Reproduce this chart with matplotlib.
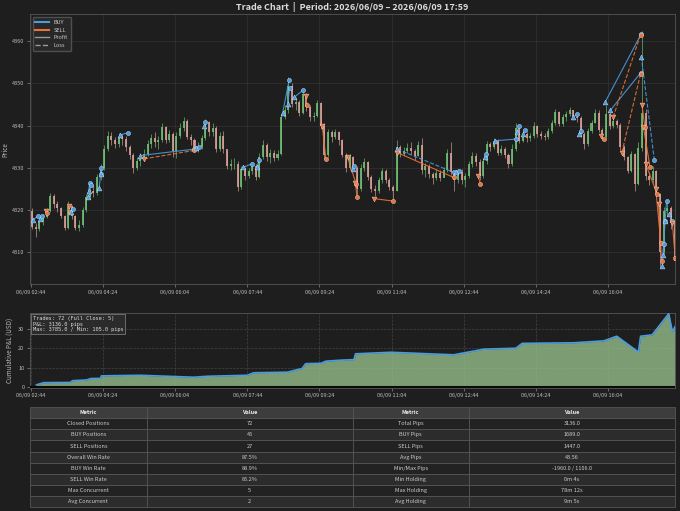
import matplotlib
matplotlib.use('Agg')
import matplotlib.pyplot as plt
from matplotlib.lines import Line2D
import numpy as np
import pandas as pd

plt.rcParams['font.family'] = ['Noto Sans CJK JP', 'DejaVu Sans']

BG = '#1e1e1e'
GRID = '#333333'
TXT = '#bbbbbb'
BLUE = '#4a9be0'
ORANGE = '#e8733a'
UP = '#72c276'
DOWN = '#dba39b'

# ---- price data (5 minute candles) ----
start = pd.Timestamp('2026-06-09 02:44')
bar_minutes = 5
first_open = 4319.8
closes = [
    4316.0, 4315.5, 4317.2, 4318.3, 4319.8, 4323.3, 4321.5, 4320.5, 4318.6, 4315.8,
    4321.0, 4318.5, 4315.8, 4316.5, 4320.0, 4323.0, 4324.5, 4324.0, 4327.7, 4330.0,
    4334.5, 4337.5, 4336.5, 4335.7, 4337.3, 4336.8, 4335.0, 4333.0, 4330.0, 4331.6,
    4332.5, 4333.3, 4335.7, 4337.0, 4336.0, 4336.5, 4339.6, 4336.5, 4338.0, 4334.0,
    4337.5, 4339.5, 4341.0, 4337.3, 4336.5, 4334.4, 4335.0, 4337.0, 4340.8, 4338.4,
    4339.5, 4334.4, 4337.5, 4334.5, 4330.5, 4330.8, 4331.0, 4325.5, 4329.7, 4328.0,
    4329.2, 4330.5, 4327.7, 4332.5, 4335.5, 4332.5, 4333.5, 4332.4, 4333.3, 4342.0,
    4343.6, 4349.5, 4345.2, 4345.5, 4343.0, 4347.5, 4344.4, 4342.0, 4342.3, 4345.3,
    4340.0, 4333.0, 4338.5, 4337.2, 4338.4, 4336.5, 4333.0, 4330.0, 4332.5, 4330.0,
    4325.0, 4330.0, 4331.3, 4327.8, 4325.0, 4324.5, 4327.0, 4329.3, 4327.0, 4325.4,
    4324.5, 4335.0, 4333.3, 4334.0, 4334.8, 4334.0, 4332.8, 4335.5, 4329.5, 4330.4,
    4328.5, 4327.5, 4328.8, 4327.5, 4329.5, 4333.5, 4329.0, 4327.0, 4329.0, 4327.0,
    4328.0, 4330.8, 4332.8, 4331.3, 4328.0, 4331.5, 4335.6, 4335.0, 4336.4, 4333.6,
    4334.5, 4333.0, 4331.0, 4334.5, 4339.5, 4336.4, 4338.0, 4337.0, 4337.5, 4340.0,
    4338.0, 4337.5, 4337.2, 4338.8, 4340.5, 4343.2, 4340.4, 4342.0, 4342.8, 4343.6,
    4342.0, 4341.8, 4338.0, 4335.6, 4338.8, 4340.5, 4343.0, 4339.0, 4337.2, 4342.8,
    4340.0, 4341.2, 4340.2, 4335.0, 4332.5, 4329.3, 4333.3, 4326.1, 4334.8, 4343.0,
    4328.0, 4327.0, 4329.3, 4323.7, 4310.0, 4319.8, 4320.5, 4317.0, 4307.9,
]
highs = [
    4320.5, 4317.0, 4318.0, 4319.0, 4320.5, 4324.0, 4323.8, 4322.0, 4320.8, 4318.8,
    4322.0, 4321.2, 4318.8, 4317.5, 4320.8, 4323.8, 4325.5, 4325.8, 4328.5, 4331.0,
    4335.5, 4338.8, 4338.5, 4337.2, 4338.2, 4338.0, 4337.5, 4335.5, 4333.5, 4332.5,
    4333.5, 4334.5, 4336.5, 4338.0, 4338.5, 4337.5, 4340.5, 4339.8, 4339.0, 4338.5,
    4338.5, 4340.5, 4342.0, 4341.5, 4338.0, 4337.0, 4336.0, 4337.8, 4341.5, 4341.0,
    4340.5, 4339.8, 4338.5, 4338.8, 4334.0, 4332.0, 4332.2, 4331.5, 4330.5, 4330.2,
    4330.0, 4331.3, 4330.8, 4333.5, 4336.6, 4335.8, 4334.5, 4334.3, 4334.2, 4343.0,
    4345.0, 4351.5, 4350.0, 4346.8, 4346.0, 4348.5, 4347.8, 4344.8, 4343.2, 4346.0,
    4345.5, 4340.5, 4339.3, 4339.0, 4339.3, 4338.8, 4336.8, 4333.5, 4333.3, 4332.8,
    4330.5, 4330.8, 4332.3, 4331.5, 4328.3, 4326.0, 4327.8, 4330.0, 4329.8, 4327.5,
    4326.0, 4336.5, 4335.5, 4335.0, 4335.8, 4336.2, 4334.5, 4336.3, 4337.0, 4331.2,
    4331.0, 4329.0, 4329.6, 4329.5, 4330.2, 4334.5, 4336.0, 4329.5, 4329.8, 4329.8,
    4328.8, 4331.5, 4333.8, 4333.5, 4332.0, 4332.3, 4336.3, 4336.2, 4337.0, 4336.8,
    4335.3, 4335.0, 4333.5, 4335.6, 4340.5, 4339.8, 4338.8, 4338.5, 4338.3, 4340.8,
    4340.2, 4338.8, 4338.2, 4339.5, 4341.3, 4344.0, 4343.5, 4342.8, 4343.5, 4344.5,
    4343.8, 4342.8, 4342.2, 4338.5, 4339.5, 4341.3, 4344.0, 4343.8, 4339.5, 4345.0,
    4343.2, 4342.0, 4341.5, 4340.5, 4335.3, 4332.8, 4334.0, 4333.5, 4336.0, 4362.5,
    4344.0, 4329.0, 4330.5, 4329.5, 4324.0, 4320.8, 4321.8, 4321.0, 4317.5,
]
lows = [
    4315.5, 4313.5, 4315.0, 4316.5, 4318.0, 4319.5, 4320.5, 4319.5, 4318.0, 4315.2,
    4315.5, 4317.8, 4315.2, 4315.0, 4316.0, 4319.5, 4322.5, 4323.0, 4323.5, 4327.0,
    4329.5, 4334.0, 4335.5, 4334.8, 4335.0, 4335.5, 4334.0, 4332.0, 4328.8, 4329.5,
    4330.5, 4331.8, 4332.8, 4334.8, 4335.0, 4334.5, 4336.0, 4335.8, 4336.0, 4332.5,
    4332.2, 4337.0, 4338.8, 4336.8, 4335.5, 4333.8, 4333.8, 4334.5, 4336.5, 4337.5,
    4337.5, 4333.8, 4334.0, 4333.5, 4329.8, 4329.5, 4329.8, 4324.5, 4325.0, 4327.2,
    4327.5, 4328.5, 4327.0, 4327.5, 4332.0, 4331.5, 4331.2, 4331.6, 4331.8, 4333.0,
    4341.5, 4343.0, 4344.5, 4343.8, 4342.2, 4342.8, 4343.5, 4341.0, 4341.0, 4342.0,
    4339.2, 4332.0, 4332.5, 4336.2, 4336.8, 4335.5, 4332.5, 4329.0, 4329.5, 4329.2,
    4323.5, 4324.5, 4329.3, 4327.0, 4324.2, 4323.2, 4324.0, 4326.5, 4326.3, 4324.8,
    4322.2, 4324.5, 4332.5, 4332.8, 4333.5, 4333.2, 4331.8, 4332.8, 4328.5, 4327.8,
    4327.5, 4326.2, 4327.0, 4326.8, 4327.8, 4329.0, 4328.2, 4324.5, 4326.5, 4326.2,
    4325.5, 4327.5, 4330.2, 4330.5, 4327.2, 4327.6, 4331.0, 4334.0, 4334.5, 4333.0,
    4333.0, 4332.2, 4330.0, 4330.5, 4334.0, 4335.8, 4336.0, 4336.2, 4336.3, 4337.0,
    4337.4, 4336.8, 4336.5, 4336.8, 4338.3, 4340.2, 4339.8, 4340.0, 4341.2, 4342.2,
    4341.3, 4340.8, 4337.2, 4334.5, 4335.2, 4338.2, 4340.5, 4338.5, 4336.5, 4337.0,
    4339.2, 4339.5, 4339.5, 4334.3, 4331.8, 4328.8, 4329.0, 4324.5, 4325.8, 4334.0,
    4327.2, 4326.0, 4326.5, 4322.8, 4306.5, 4309.5, 4318.5, 4315.5, 4305.0,
]

# ---- trades (minute index / price) ----
trade_side = ['BUY', 'BUY', 'SELL', 'SELL', 'BUY', 'BUY', 'BUY', 'BUY', 'BUY', 'BUY',
              'BUY', 'SELL', 'BUY', 'BUY', 'BUY', 'BUY', 'BUY', 'BUY', 'BUY', 'SELL',
              'SELL', 'SELL', 'BUY', 'SELL', 'SELL', 'BUY', 'SELL', 'BUY', 'SELL', 'BUY',
              'BUY', 'BUY', 'BUY', 'BUY', 'BUY', 'SELL', 'BUY', 'BUY', 'SELL', 'SELL',
              'BUY', 'SELL', 'SELL', 'SELL', 'SELL', 'SELL', 'BUY', 'BUY', 'BUY', 'BUY',
              'SELL']
entry_idx = [3, 13, 21, 53, 56, 79, 81, 95, 97, 124,
             152, 157, 229, 240, 294, 314, 349, 356, 365, 381,
             404, 439, 446, 450, 475, 508, 508, 589, 620, 629,
             643, 674, 682, 752, 759, 790, 796, 803, 807, 819,
             846, 847, 849, 852, 866, 870, 875, 876, 879, 885,
             889]
entry_px = [4317.5, 4317.8, 4319.8, 4321.0, 4319.5, 4323.1, 4324.6, 4325.3, 4328.5, 4337.8,
            4332.9, 4332.1, 4334.7, 4339.8, 4330.1, 4330.1, 4342.9, 4345.2, 4346.7, 4347.1,
            4340.0, 4332.5, 4329.8, 4326.5, 4322.7, 4334.4, 4333.6, 4328.9, 4328.1, 4332.5,
            4336.4, 4338.4, 4338.0, 4342.0, 4338.0, 4337.6, 4345.6, 4343.6, 4342.0, 4333.6,
            4356.3, 4344.8, 4339.6, 4331.0, 4325.0, 4321.5, 4306.7, 4309.4, 4317.4, 4319.0,
            4317.0]
exit_idx = [10, 16, 23, 55, 58, 82, 83, 97, 98, 135,
            226, 226, 233, 242, 306, 316, 358, 359, 378, 383,
            409, 451, 448, 452, 502, 586, 586, 593, 623, 631,
            672, 676, 685, 757, 762, 794, 846, 845, 845, 845,
            864, 851, 858, 868, 873, 874, 877, 879, 881, 888,
            893]
exit_px = [4318.6, 4318.6, 4319.3, 4319.4, 4320.3, 4326.5, 4326.0, 4328.5, 4330.0, 4338.3,
           4334.4, 4334.1, 4335.0, 4340.8, 4330.9, 4331.8, 4350.7, 4349.0, 4348.5, 4344.8,
           4332.1, 4326.1, 4330.5, 4323.1, 4322.1, 4328.9, 4327.7, 4329.3, 4326.2, 4333.3,
           4336.8, 4340.0, 4339.0, 4342.8, 4338.8, 4336.9, 4361.8, 4352.5, 4361.6, 4352.3,
           4331.9, 4339.6, 4330.2, 4323.7, 4312.2, 4308.0, 4311.8, 4317.4, 4322.1, 4317.4,
           4308.5]

# ---- cumulative P&L (USD) ----
pnl_idx = [8, 18, 55, 58, 78, 83, 97, 98, 152, 226, 245, 300, 309, 356, 365, 376, 381,
           402, 409, 429, 448, 450, 499, 586, 628, 672, 681, 752, 794, 812, 842, 845,
           861, 884, 889, 893]
pnl_usd = [1.05, 2.2, 2.3, 3.2, 3.6, 4.3, 4.4, 5.7, 6.0, 5.0, 5.5, 6.0, 7.3, 7.6, 8.5, 9.5,
           12.0, 12.2, 13.3, 13.8, 14.1, 17.1, 17.9, 16.6, 19.5, 20.0, 22.5, 22.8, 23.8,
           26.2, 18.0, 26.2, 26.9, 37.85, 28.5, 31.36]

# ---- summary table ----
metrics_left = ['Closed Positions', 'BUY Positions', 'SELL Positions', 'Overall Win Rate',
                'BUY Win Rate', 'SELL Win Rate', 'Max Concurrent', 'Avg Concurrent']
values_left = ['72', '45', '27', '87.5%', '88.9%', '85.2%', '5', '2']
metrics_right = ['Total Pips', 'BUY Pips', 'SELL Pips', 'Avg Pips', 'Min/Max Pips',
                 'Min Holding', 'Max Holding', 'Avg Holding']
values_right = ['3136.0', '1689.0', '1447.0', '43.56', '-1960.0 / 1106.0',
                '0m 4s', '78m 12s', '9m 5s']


def style_axes(a):
    a.set_facecolor(BG)
    for s in a.spines.values():
        s.set_color('#555555')
        s.set_linewidth(0.6)
    a.tick_params(colors='#888888', labelcolor=TXT, labelsize=4, length=2, width=0.5, pad=2)


fig = plt.figure(figsize=(6.8, 5.11), dpi=100, facecolor=BG)
ax = fig.add_axes([0.044, 0.444, 0.949, 0.528])
ax2 = fig.add_axes([0.044, 0.241, 0.949, 0.1468])
axt = fig.add_axes([0.044, 0.008, 0.949, 0.195])

# candles
c = np.array(closes)
o = np.r_[first_open, c[:-1]]
x = np.arange(len(c)) * bar_minutes + 2
cols = np.where(c >= o, UP, DOWN)
ax.vlines(x, lows, highs, colors=cols, lw=0.5, alpha=0.9, zorder=2)
ax.bar(x, np.maximum(np.abs(c - o), 0.15), bottom=np.minimum(o, c), width=2.8,
       color=cols, alpha=0.85, zorder=2, linewidth=0)

# trades
for side, ei, ep, xi, xp in zip(trade_side, entry_idx, entry_px, exit_idx, exit_px):
    col = BLUE if side == 'BUY' else ORANGE
    edge = '#cfe6ff' if side == 'BUY' else '#ffd2bd'
    gain = (xp - ep) if side == 'BUY' else (ep - xp)
    ls = '-' if gain > 0 else '--'
    ax.plot([ei, xi], [ep, xp], color=col, ls=ls, lw=0.8, alpha=0.9, zorder=3)
    ax.plot(ei, ep, marker='^' if side == 'BUY' else 'v', color=col, ms=3.5,
            mec=edge, mew=0.3, zorder=4)
    ax.plot(xi, xp, marker='o', color=col, ms=3, mec=edge, mew=0.3, zorder=4)

tick_pos = np.arange(0, 894, 100)
tick_lab = [(start + pd.Timedelta(minutes=int(p))).strftime('%m/%d %H:%M') for p in tick_pos]

style_axes(ax)
ax.set_xlim(-1, 893)
ax.set_ylim(4302.4, 4366.4)
ax.set_yticks([4310, 4320, 4330, 4340, 4350, 4360])
ax.set_xticks(tick_pos)
ax.set_xticklabels(tick_lab)
ax.grid(True, color=GRID, lw=0.5)
ax.set_axisbelow(True)
ax.set_ylabel('Price', fontsize=4.5, color=TXT, labelpad=2)
ax.set_title('Trade Chart  |  Period: 2026/06/09 – 2026/06/09 17:59', fontsize=6.5,
             fontweight='bold', color='#dddddd', pad=3)

handles = [Line2D([0], [0], color=BLUE, lw=1.5, label='BUY'),
           Line2D([0], [0], color=ORANGE, lw=1.5, label='SELL'),
           Line2D([0], [0], color='#999999', lw=1, label='Profit'),
           Line2D([0], [0], color='#999999', lw=1, ls='--', label='Loss')]
leg = ax.legend(handles=handles, loc='upper left', fontsize=4, facecolor='#2a2a2a',
                edgecolor='#555555', labelcolor='#cccccc', framealpha=0.9,
                handlelength=2.5, borderpad=0.5, labelspacing=0.5)

# cumulative pnl
style_axes(ax2)
ax2.fill_between(pnl_idx, pnl_usd, 0, color='#9cc890', alpha=0.75, lw=0, zorder=2)
ax2.plot(pnl_idx, pnl_usd, color=BLUE, lw=1.2, zorder=3)
ax2.axhline(0, color='#0a0a0a', lw=1.5, zorder=3)
ax2.set_xlim(-1, 893)
ax2.set_ylim(-0.5, 38.3)
ax2.set_yticks([0, 10, 20, 30])
ax2.set_xticks(tick_pos)
ax2.set_xticklabels(tick_lab)
ax2.grid(True, color='#444444', lw=0.5, ls='--')
ax2.set_axisbelow(True)
ax2.set_ylabel('Cumulative P&L (USD)', fontsize=4.5, color=TXT, labelpad=3)
info = 'Trades: 72 (Full Close: 5)\nP&L: 3136.0 pips\nMax: 3785.0 / Min: 105.0 pips'
ax2.text(0.004, 0.96, info, transform=ax2.transAxes, va='top', ha='left',
         family='DejaVu Sans Mono', fontsize=3.8, color='#dddddd', zorder=5,
         bbox=dict(boxstyle='square,pad=0.3', facecolor='#2b2b2b', edgecolor='#777777', lw=0.6))

# table
axt.axis('off')
rows = [list(r) for r in zip(metrics_left, values_left, metrics_right, values_right)]
tbl = axt.table(cellText=rows, colLabels=['Metric', 'Value', 'Metric', 'Value'],
                cellLoc='center', bbox=[0, 0, 1, 1], colWidths=[0.181, 0.319, 0.18, 0.32])
tbl.auto_set_font_size(False)
tbl.set_fontsize(4)
for (r, cidx), cell in tbl.get_celld().items():
    cell.set_edgecolor('#555555')
    cell.set_linewidth(0.6)
    if r == 0:
        cell.set_facecolor('#3d3d3d')
        cell.get_text().set_color('#eeeeee')
        cell.get_text().set_fontweight('bold')
    else:
        cell.set_facecolor('#222222' if r % 2 == 1 else '#2c2c2c')
        cell.get_text().set_color('#cccccc')

fig.savefig('out.png', dpi=100, facecolor=BG)
